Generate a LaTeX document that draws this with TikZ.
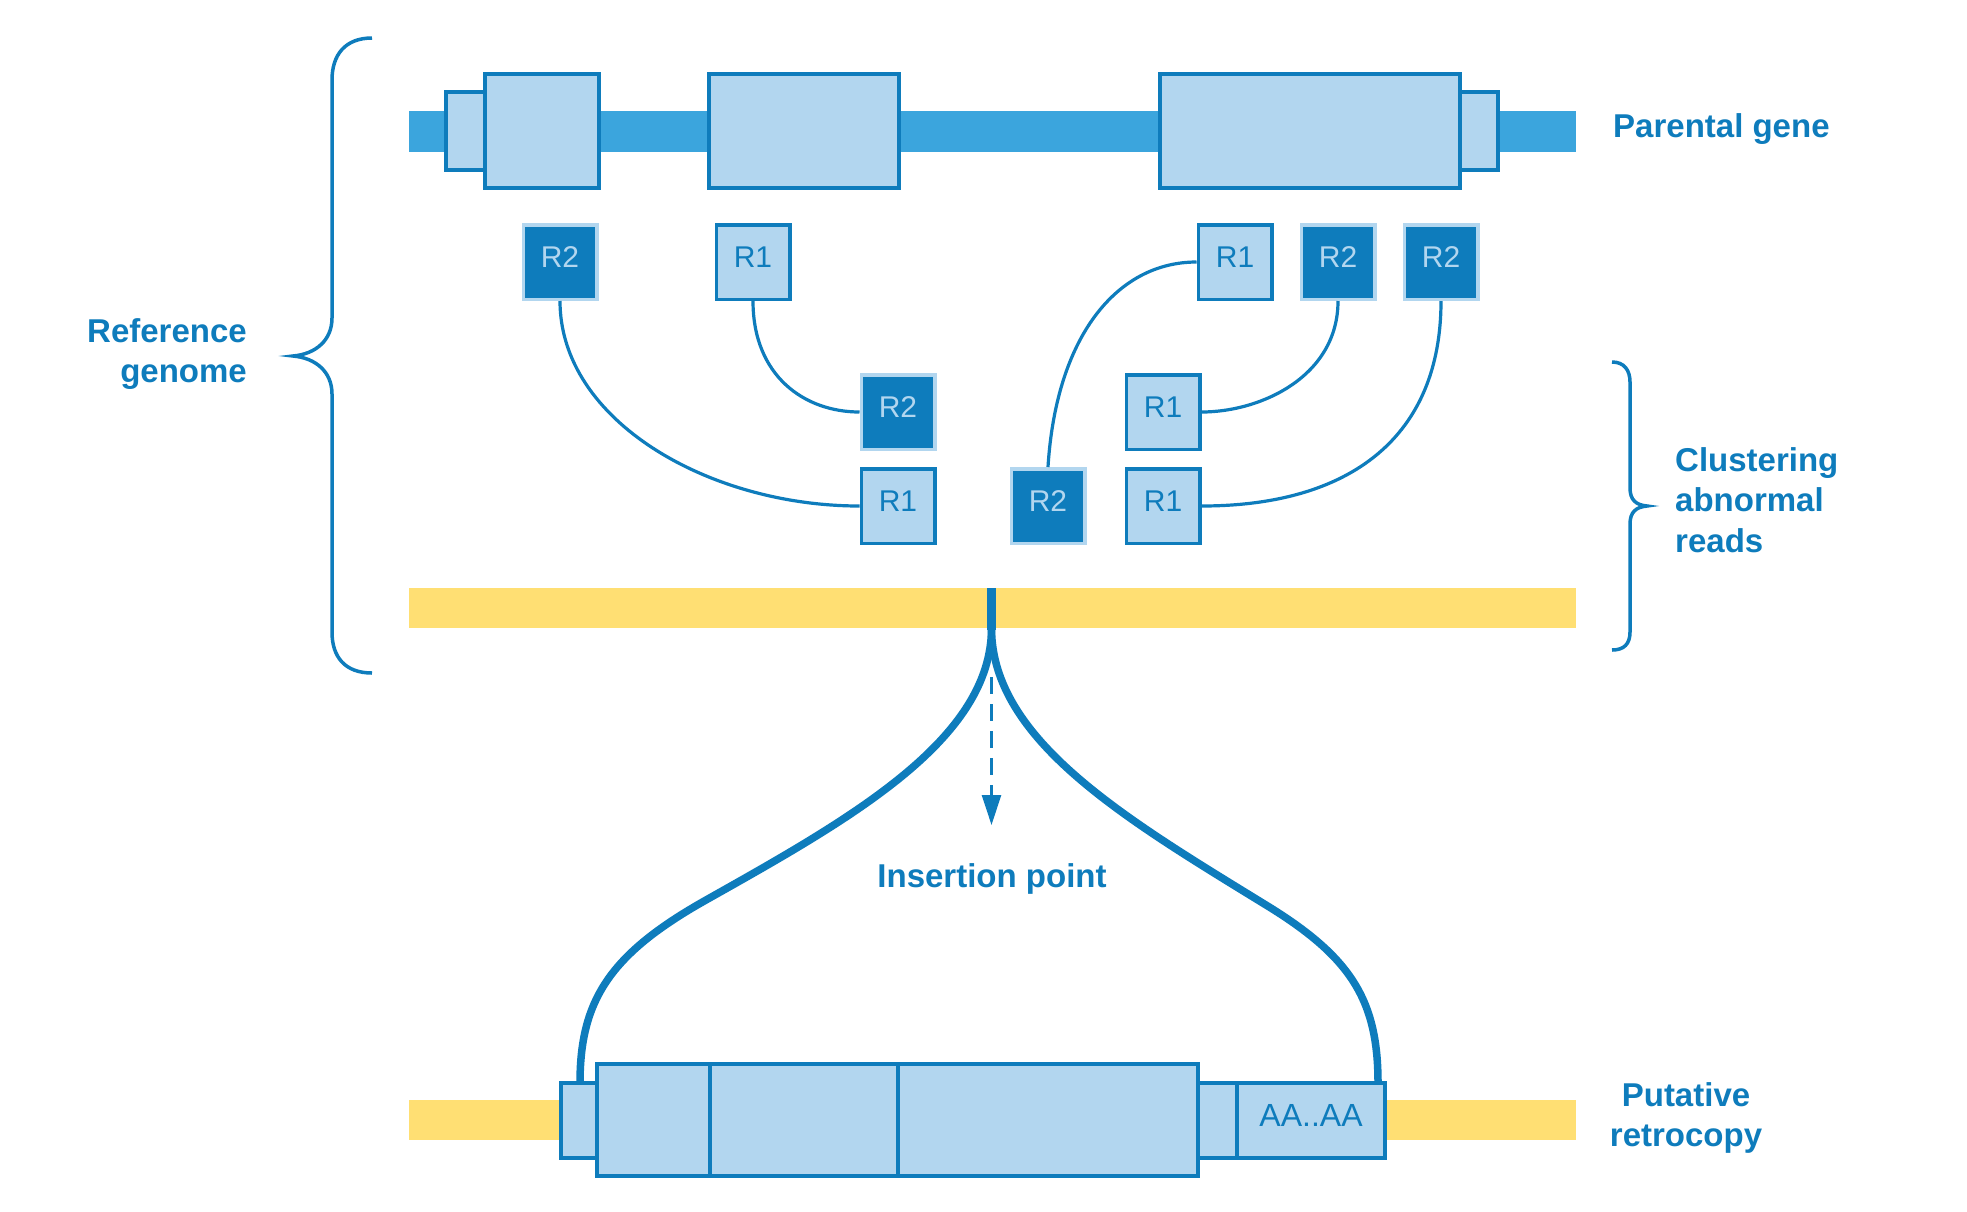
\documentclass[tikz,border=0pt]{standalone}
\usepackage{fontspec}
\setmainfont{Liberation Sans}
\usetikzlibrary{arrows.meta}
\definecolor{dkblue}{RGB}{14,124,188}
\definecolor{ltblue}{RGB}{178,214,239}
\definecolor{barblue}{RGB}{59,165,221}
\definecolor{genomeyellow}{RGB}{255,223,115}
\tikzset{
  lbl/.style={text=dkblue, font=\bfseries\fontsize{33}{40.5}\selectfont, inner sep=0pt},
  readlt/.style={draw=dkblue, fill=ltblue, text=dkblue, line width=3.5pt,
    minimum width=73.5pt, minimum height=74.5pt, inner sep=0pt,
    font=\fontsize{30}{36}\selectfont, text height=22pt, text depth=11pt},
  readdk/.style={readlt, draw=ltblue, fill=dkblue, text=ltblue},
  exon/.style={draw=dkblue, fill=ltblue, line width=3.5pt},
  pairline/.style={draw=dkblue, line width=3.2pt},
  bridge/.style={draw=dkblue, line width=7.5pt},
  bracepath/.style={draw=dkblue, line width=3.5pt}
}
\begin{document}
\begin{tikzpicture}[x=1pt, y=-1pt]
\useasboundingbox (0,0) rectangle (1967,1211);
\fill[white] (0,0) rectangle (1967,1211);

% ---------- parental gene ----------
\fill[barblue] (409,111) rectangle (1576,152);
\draw[exon] (446,92) rectangle (485,170);
\draw[exon] (485,74) rectangle (599,188);
\draw[exon] (709,74) rectangle (899,188);
\draw[exon] (1460,92) rectangle (1498,170);
\draw[exon] (1160,74) rectangle (1460,188);
\node[lbl, anchor=base west] (pg) at (1613,137) {Parental gene};

% ---------- reads ----------
\node[readdk] (r2a) at (560,262) {R2};
\node[readlt] (r1a) at (753,262) {R1};
\node[readlt] (r1b) at (1235,262) {R1};
\node[readdk] (r2d) at (1338,262) {R2};
\node[readdk] (r2e) at (1441,262) {R2};
\node[readdk] (r2b) at (898,412) {R2};
\node[readlt] (r1d) at (1163,412) {R1};
\node[readlt] (r1c) at (898,506) {R1};
\node[readdk] (r2c) at (1048,506) {R2};
\node[readlt] (r1f) at (1163,506) {R1};

\draw[pairline] (r2a.south) .. controls +(0,120) and +(-150,0) .. (r1c.west);
\draw[pairline] (r1a.south) .. controls +(0,75) and +(-55,0) .. (r2b.west);
\draw[pairline] (r1b.west) .. controls +(-80,0) and +(8,-130) .. (r2c.north);
\draw[pairline] (r2d.south) .. controls +(0,75) and +(60,0) .. (r1d.east);
\draw[pairline] (r2e.south) .. controls +(0,135) and +(150,0) .. (r1f.east);

% ---------- reference genome (yellow) ----------
\fill[genomeyellow] (409,588) rectangle (1576,628);
\fill[dkblue] (987,588) rectangle (996,630);
\coordinate (ins) at (991.5,628);
\coordinate (lend) at (580,1083);
\coordinate (rend) at (1378,1083);
\coordinate (lmid) at (706,900);
\coordinate (rmid) at (1266,905);

% ---------- insertion bridge ----------
\draw[bridge] (ins) .. controls (991.5,740) and (850,819) .. (lmid)
  .. controls (610,954) and (580,1000) .. (lend);
\draw[bridge] (ins) .. controls (991.5,740) and (1126,819) .. (rmid)
  .. controls (1351,957) and (1378,1000) .. (rend);
\coordinate (dashstart) at (991.5,677);
\coordinate (dashend) at (991.5,825);
\draw[dkblue, line width=2.5pt, dash pattern=on 17pt off 10pt,
  -{Triangle[length=30pt,width=19pt]}] (dashstart) -- (dashend);
\node[lbl, anchor=base] (ip) at (992,887) {Insertion point};

% ---------- putative retrocopy ----------
\fill[genomeyellow] (409,1100) rectangle (1576,1140);
\draw[exon] (561,1083) rectangle (597,1158);
\draw[exon] (1198,1083) rectangle (1385,1158);
\draw[dkblue, line width=3.5pt] (1237,1083) -- (1237,1158);
\draw[exon] (597,1064) rectangle (1198,1176);
\draw[dkblue, line width=3.5pt] (710,1064) -- (710,1176);
\draw[dkblue, line width=3.5pt] (898,1064) -- (898,1176);
\node[font=\fontsize{32}{38}\selectfont, text=dkblue, anchor=base, inner sep=0pt] (aa) at (1311,1126) {AA..AA};
\node[lbl, align=center] (pr) at (1686,1118) {Putative\\retrocopy};

% ---------- braces ----------
\draw[bracepath] (372,38) .. controls (345,38) and (332,55) .. (332,80)
  -- (332,318) .. controls (332,340) and (316,354) .. (293,356)
  .. controls (316,358) and (332,372) .. (332,394)
  -- (332,632) .. controls (332,657) and (345,673) .. (372,673);
\node[lbl, align=right, anchor=east] (rg) at (247,354) {Reference\\genome};

\draw[bracepath] (1612,362) .. controls (1624,362) and (1630,370) .. (1630,382)
  -- (1630,488) .. controls (1630,500) and (1636,505) .. (1647,506)
  .. controls (1636,507) and (1630,512) .. (1630,524)
  -- (1630,632) .. controls (1630,644) and (1624,650) .. (1612,650);
\node[lbl, align=left, anchor=west] (ca) at (1675,500) {Clustering\\abnormal\\reads};
\end{tikzpicture}
\end{document}
